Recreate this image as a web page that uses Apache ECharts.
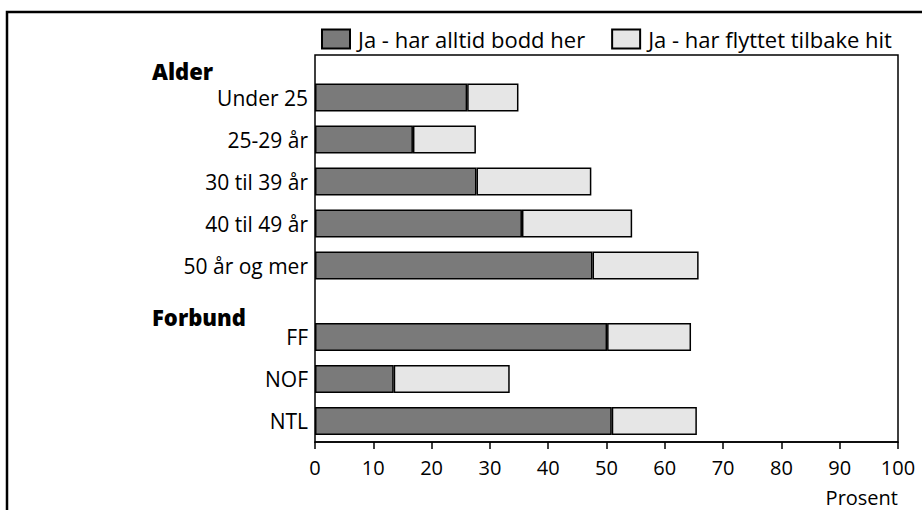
<!DOCTYPE html>
<html>
<head>
<meta charset="utf-8">
<script src="https://cdn.jsdelivr.net/npm/echarts@6/dist/echarts.min.js"></script>
<style>html,body{margin:0;padding:0;background:#fff}#c{width:922px;height:510px}</style>
</head>
<body>
<div id="c"></div>
<script>
// Data
const ageCategories = ['Under 25', '25-29 år', '30 til 39 år', '40 til 49 år', '50 år og mer'];
const ageAlways = [26.1, 16.8, 27.7, 35.5, 47.6];
const ageReturned = [8.8, 10.8, 19.7, 18.9, 18.2];
const unionCategories = ['FF', 'NOF', 'NTL'];
const unionAlways = [50.1, 13.5, 50.9];
const unionReturned = [14.4, 19.9, 14.6];
const seriesNames = ['Ja - har alltid bodd her', 'Ja - har flyttet tilbake hit'];
const groupHeaders = ['Alder', 'Forbund'];
const xTicks = { min: 0, max: 100, interval: 10 };
const xAxisTitle = 'Prosent';

const FONT = 'Open Sans';
const DARK = '#7a7a7a';
const LIGHT = '#e6e6e6';

const chart = echarts.init(document.getElementById('c'), null, { renderer: 'svg' });

function barSeries(name, data, idx, color) {
  return {
    type: 'bar', name: name, data: data, stack: 'g' + idx,
    xAxisIndex: idx, yAxisIndex: idx, barWidth: 28,
    itemStyle: { color: color, borderColor: '#000', borderWidth: 1.5 },
    emphasis: { disabled: true }, animation: false
  };
}

const hiddenX = (i) => ({ type: 'value', gridIndex: i, min: xTicks.min, max: xTicks.max, show: false });

const catLabel = { fontFamily: FONT, fontSize: 21, color: '#000', margin: 7 };

const option = {
  animation: false,
  textStyle: { fontFamily: FONT },
  legend: {
    left: 316, top: 23, itemWidth: 28, itemHeight: 19, itemGap: 26,
    textStyle: { fontFamily: FONT, fontSize: 22, color: '#000', padding: [0, 0, 0, 3] },
    data: seriesNames.map(n => ({ name: n, icon: 'rect' }))
  },
  grid: [
    { left: 315, top: 55, width: 583, height: 387, show: true, borderColor: '#000', borderWidth: 1.5, backgroundColor: 'transparent' },
    { left: 315, top: 76.5, width: 583, height: 210 },
    { left: 315, top: 316, width: 583, height: 126 }
  ],
  xAxis: [
    {
      type: 'value', gridIndex: 0, min: xTicks.min, max: xTicks.max, interval: xTicks.interval,
      splitLine: { show: false },
      axisLine: { show: true, lineStyle: { color: '#000', width: 1.5 } },
      axisTick: { show: true, length: 7, lineStyle: { color: '#000', width: 1.5 } },
      axisLabel: { fontFamily: FONT, fontSize: 20, color: '#000', margin: 15 }
    },
    hiddenX(1), hiddenX(2)
  ],
  yAxis: [
    { type: 'value', gridIndex: 0, show: false },
    {
      type: 'category', gridIndex: 1, data: ageCategories, inverse: true,
      axisLine: { show: false }, axisTick: { show: false }, axisLabel: catLabel
    },
    {
      type: 'category', gridIndex: 2, data: unionCategories, inverse: true,
      axisLine: { show: false }, axisTick: { show: false }, axisLabel: catLabel
    }
  ],
  series: [
    barSeries(seriesNames[0], ageAlways, 1, DARK),
    barSeries(seriesNames[1], ageReturned, 1, LIGHT),
    barSeries(seriesNames[0], unionAlways, 2, DARK),
    barSeries(seriesNames[1], unionReturned, 2, LIGHT)
  ],
  graphic: [
    { type: 'rect', shape: { x: 7, y: 12, width: 960, height: 560 }, style: { fill: 'none', stroke: '#000', lineWidth: 2.5 }, silent: true },
    { type: 'text', x: 152, y: 71, style: { text: groupHeaders[0], font: '800 22px "' + FONT + '"', fill: '#000', textVerticalAlign: 'middle' } },
    { type: 'text', x: 152, y: 317, style: { text: groupHeaders[1], font: '800 22px "' + FONT + '"', fill: '#000', textVerticalAlign: 'middle' } },
    { type: 'text', x: 898, y: 497, style: { text: xAxisTitle, font: '20px "' + FONT + '"', fill: '#000', textAlign: 'right', textVerticalAlign: 'middle' } }
  ]
};
chart.setOption(option);
</script>
</body>
</html>
